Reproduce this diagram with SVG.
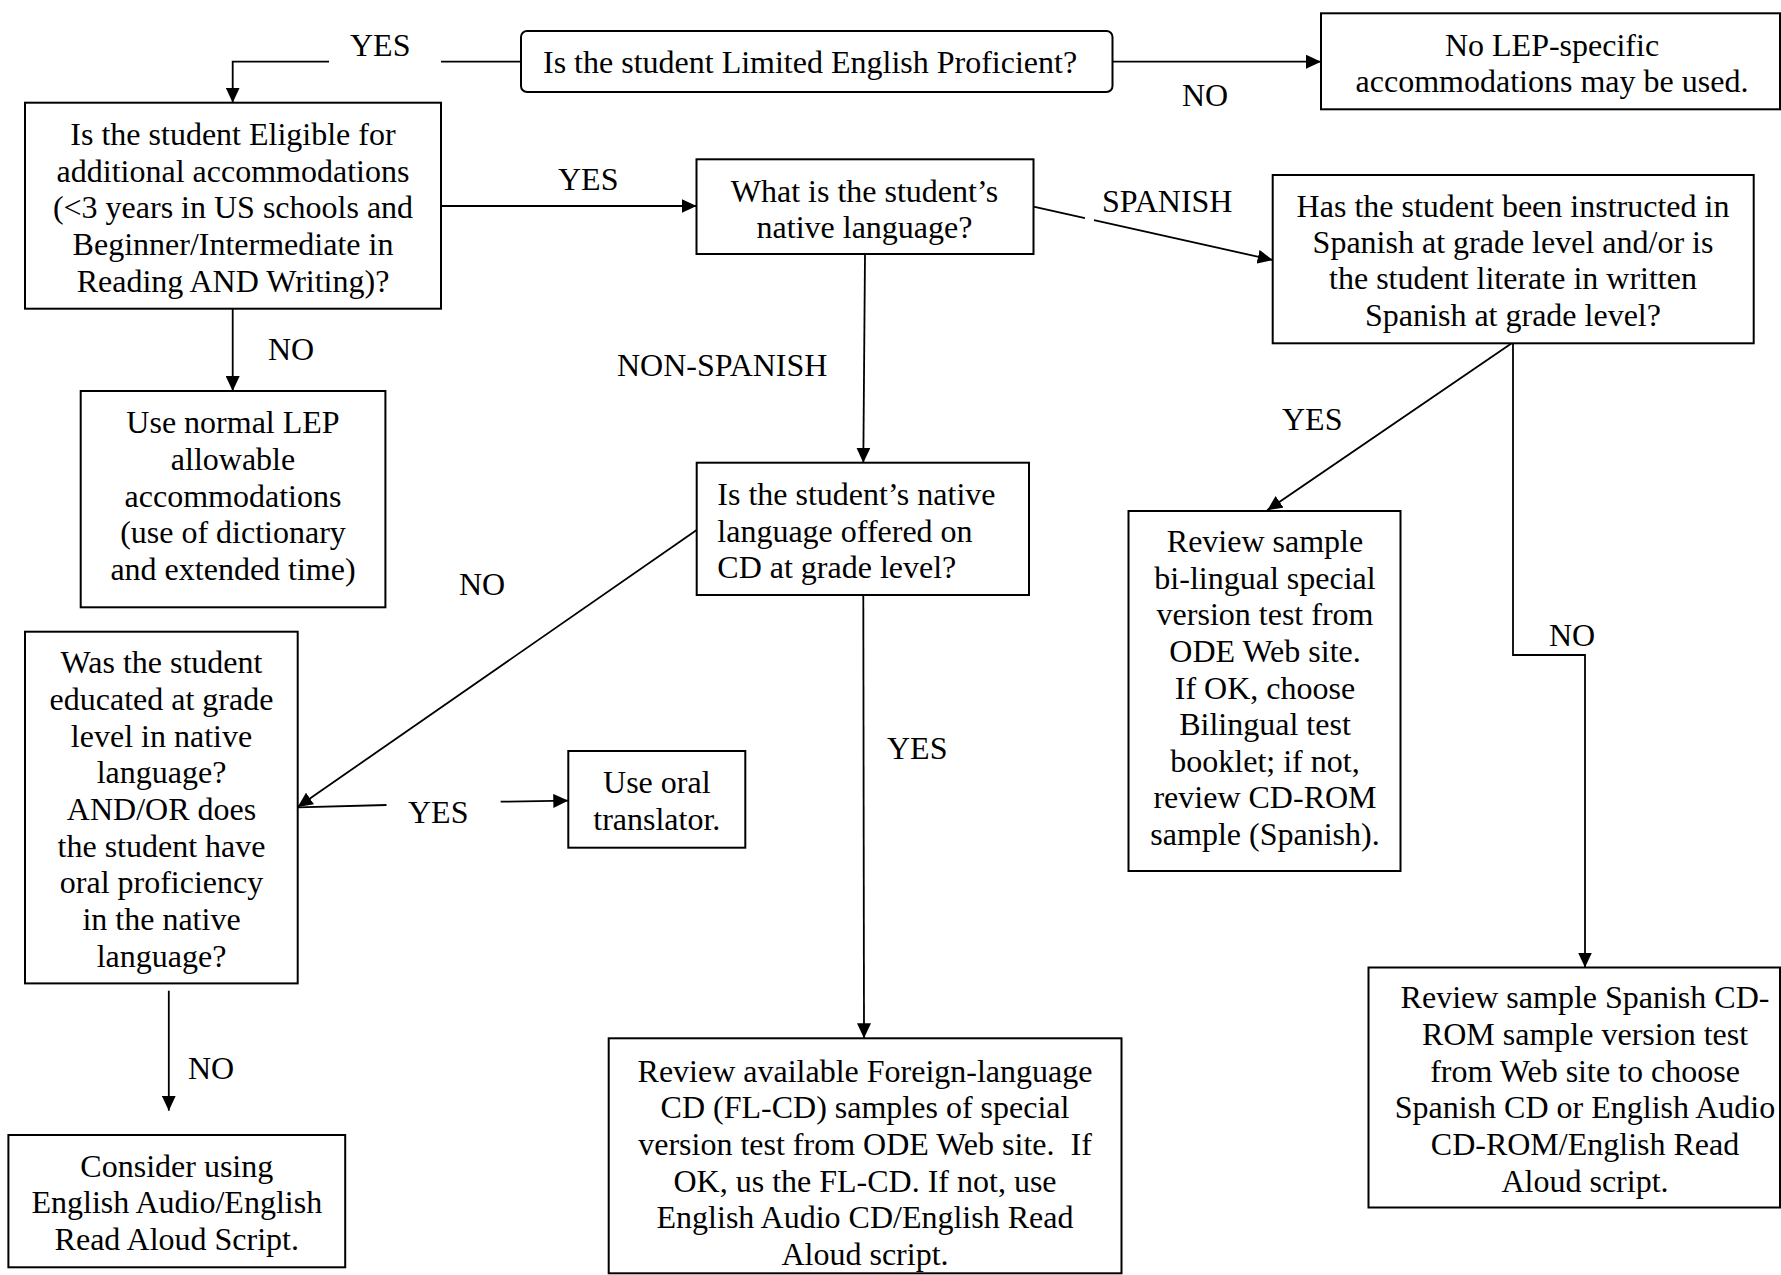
<svg xmlns="http://www.w3.org/2000/svg" width="1781" height="1275" viewBox="0 0 1781 1275">
<style>
  .box { fill: #fff; stroke: #000; stroke-width: 2; }
  .t { font-family: "Liberation Serif", "Times New Roman", serif; font-size: 32px; fill: #000; }
  .c { text-anchor: middle; }
  .ln { fill: none; stroke: #000; stroke-width: 1.8; }
</style>
<defs>
  <marker id="ah" markerUnits="userSpaceOnUse" markerWidth="15" markerHeight="14" refX="15" refY="7" orient="auto">
    <path d="M0,0 L15,7 L0,14 z" fill="#000"/>
  </marker>
</defs>
<rect width="1781" height="1275" fill="#fff"/>

<g id="connectors">
  <path class="ln" d="M520,61.7 H441"/>
  <path class="ln" d="M329,61.7 H232.7 V102.7" marker-end="url(#ah)"/>
  <path class="ln" d="M1112.5,61.7 H1321" marker-end="url(#ah)"/>
  <path class="ln" d="M441,206 H696.5" marker-end="url(#ah)"/>
  <path class="ln" d="M1033.5,206.7 L1085,218.2"/>
  <path class="ln" d="M1094,220.2 L1272.7,260" marker-end="url(#ah)"/>
  <path class="ln" d="M865,254 L863.3,462.7" marker-end="url(#ah)"/>
  <path class="ln" d="M232.7,308.7 V391" marker-end="url(#ah)"/>
  <path class="ln" d="M696.7,530 L297.7,807" marker-end="url(#ah)"/>
  <path class="ln" d="M297.7,807.3 L386.5,805"/>
  <path class="ln" d="M500.6,801.7 L568.3,800.7" marker-end="url(#ah)"/>
  <path class="ln" d="M168.8,990.7 V1110.7" marker-end="url(#ah)"/>
  <path class="ln" d="M863.3,595 L864,1038.3" marker-end="url(#ah)"/>
  <path class="ln" d="M1511.7,343.3 L1267.2,510.3" marker-end="url(#ah)"/>
  <path class="ln" d="M1513,343.3 V655 H1585 V967.5" marker-end="url(#ah)"/>
</g>

<g id="labels">
  <text class="t" x="350" y="55.5">YES</text>
  <text class="t" x="1182" y="105.5">NO</text>
  <text class="t" x="558" y="189.5">YES</text>
  <text class="t" x="1102" y="211.5">SPANISH</text>
  <text class="t" x="268" y="359.5">NO</text>
  <text class="t" x="617" y="375.5">NON-SPANISH</text>
  <text class="t" x="1282" y="429.5">YES</text>
  <text class="t" x="459" y="594.5">NO</text>
  <text class="t" x="1549" y="645.5">NO</text>
  <text class="t" x="887" y="758.5">YES</text>
  <text class="t" x="408" y="822.5">YES</text>
  <text class="t" x="188" y="1078.5">NO</text>
</g>

<g id="n-lep">
  <rect class="box" x="521" y="31" width="591.5" height="61" rx="6"/>
  <text class="t" x="543" y="73.2">Is the student Limited English Proficient?</text>
</g>

<g id="n-nolep">
  <rect class="box" x="1321" y="13.3" width="459" height="96"/>
  <text class="t c" x="1552" y="55.5">No LEP-specific</text>
  <text class="t c" x="1552" y="92.2">accommodations may be used.</text>
</g>

<g id="n-eligible">
  <rect class="box" x="25" y="102.7" width="416" height="206"/>
  <text class="t c" x="233" y="144.8">Is the student Eligible for</text>
  <text class="t c" x="233" y="181.5">additional accommodations</text>
  <text class="t c" x="233" y="218.2">(&lt;3 years in US schools and</text>
  <text class="t c" x="233" y="254.8">Beginner/Intermediate in</text>
  <text class="t c" x="233" y="291.5">Reading AND Writing)?</text>
</g>

<g id="n-native">
  <rect class="box" x="696.5" y="159.3" width="337" height="94.7"/>
  <text class="t c" x="864.5" y="201.5">What is the student’s</text>
  <text class="t c" x="864.5" y="238.2">native language?</text>
</g>

<g id="n-has">
  <rect class="box" x="1272.7" y="175" width="481" height="168.3"/>
  <text class="t c" x="1513" y="216.5">Has the student been instructed in</text>
  <text class="t c" x="1513" y="252.8">Spanish at grade level and/or is</text>
  <text class="t c" x="1513" y="289.2">the student literate in written</text>
  <text class="t c" x="1513" y="325.5">Spanish at grade level?</text>
</g>

<g id="n-normal">
  <rect class="box" x="80.7" y="391" width="304.7" height="216.3"/>
  <text class="t c" x="233" y="433.2">Use normal LEP</text>
  <text class="t c" x="233" y="469.8">allowable</text>
  <text class="t c" x="233" y="506.5">accommodations</text>
  <text class="t c" x="233" y="543.2">(use of dictionary</text>
  <text class="t c" x="233" y="579.8">and extended time)</text>
</g>

<g id="n-cd">
  <rect class="box" x="696.7" y="462.7" width="332.3" height="132.3"/>
  <text class="t" x="717.3" y="504.8">Is the student’s native</text>
  <text class="t" x="717.3" y="541.5">language offered on</text>
  <text class="t" x="717.3" y="578.2">CD at grade level?</text>
</g>

<g id="n-bilingual">
  <rect class="box" x="1128.5" y="511" width="272" height="360"/>
  <text class="t c" x="1265" y="552.1">Review sample</text>
  <text class="t c" x="1265" y="588.7">bi-lingual special</text>
  <text class="t c" x="1265" y="625.3">version test from</text>
  <text class="t c" x="1265" y="661.9">ODE Web site.</text>
  <text class="t c" x="1265" y="698.5">If OK, choose</text>
  <text class="t c" x="1265" y="735.1">Bilingual test</text>
  <text class="t c" x="1265" y="771.7">booklet; if not,</text>
  <text class="t c" x="1265" y="808.3">review CD-ROM</text>
  <text class="t c" x="1265" y="844.9">sample (Spanish).</text>
</g>

<g id="n-was">
  <rect class="box" x="25" y="631.7" width="272.7" height="351.7"/>
  <text class="t c" x="161.5" y="673.2">Was the student</text>
  <text class="t c" x="161.5" y="709.8">educated at grade</text>
  <text class="t c" x="161.5" y="746.5">level in native</text>
  <text class="t c" x="161.5" y="783.2">language?</text>
  <text class="t c" x="161.5" y="819.8">AND/OR does</text>
  <text class="t c" x="161.5" y="856.5">the student have</text>
  <text class="t c" x="161.5" y="893.2">oral proficiency</text>
  <text class="t c" x="161.5" y="929.8">in the native</text>
  <text class="t c" x="161.5" y="966.5">language?</text>
</g>

<g id="n-oral">
  <rect class="box" x="568.3" y="751" width="177" height="96.7"/>
  <text class="t c" x="656.8" y="793.2">Use oral</text>
  <text class="t c" x="656.8" y="829.8">translator.</text>
</g>

<g id="n-consider">
  <rect class="box" x="8.4" y="1135" width="336.8" height="132.3"/>
  <text class="t c" x="176.8" y="1176.5">Consider using</text>
  <text class="t c" x="176.8" y="1213.2">English Audio/English</text>
  <text class="t c" x="176.8" y="1249.8">Read Aloud Script.</text>
</g>

<g id="n-flcd">
  <rect class="box" x="608.7" y="1038.3" width="512.8" height="235"/>
  <text class="t c" x="865" y="1081.5">Review available Foreign-language</text>
  <text class="t c" x="865" y="1118.2">CD (FL-CD) samples of special</text>
  <text class="t c" x="865" y="1154.8" style="white-space:pre">version test from ODE Web site.  If</text>
  <text class="t c" x="865" y="1191.5">OK, us the FL-CD. If not, use</text>
  <text class="t c" x="865" y="1228.2">English Audio CD/English Read</text>
  <text class="t c" x="865" y="1264.8">Aloud script.</text>
</g>

<g id="n-spanishcd">
  <rect class="box" x="1368.5" y="967.5" width="411.5" height="240"/>
  <text class="t c" x="1585" y="1008.2">Review sample Spanish CD-</text>
  <text class="t c" x="1585" y="1044.8">ROM sample version test</text>
  <text class="t c" x="1585" y="1081.5">from Web site to choose</text>
  <text class="t c" x="1585" y="1118.2">Spanish CD or English Audio</text>
  <text class="t c" x="1585" y="1154.8">CD-ROM/English Read</text>
  <text class="t c" x="1585" y="1192">Aloud script.</text>
</g>
</svg>
